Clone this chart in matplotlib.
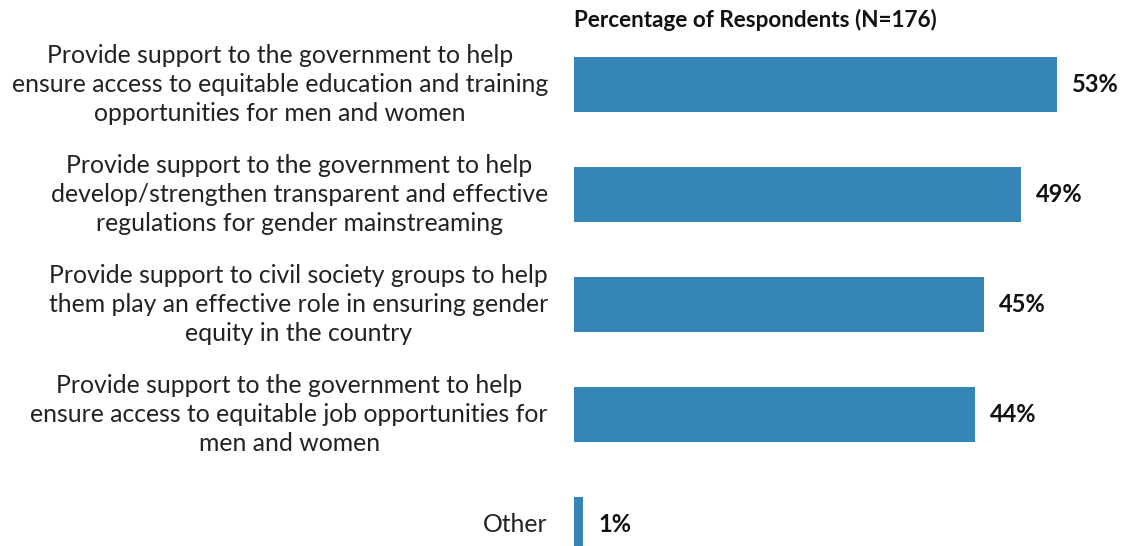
import matplotlib
matplotlib.use("Agg")
import matplotlib.pyplot as plt
from matplotlib.transforms import offset_copy

categories = [
    "Provide support to the government to help\nensure access to equitable education and training\nopportunities for men and women",
    "Provide support to the government to help\ndevelop/strengthen transparent and effective\nregulations for gender mainstreaming",
    "Provide support to civil society groups to help\nthem play an effective role in ensuring gender\nequity in the country",
    "Provide support to the government to help\nensure access to equitable job opportunities for\nmen and women",
    "Other",
]
values = [53, 49, 45, 44, 1]
title = "Percentage of Respondents (N=176)"

W, H = 1125, 546
fig = plt.figure(figsize=(W / 100, H / 100), dpi=100)
plt.rcParams['font.family'] = ['Lato', 'DejaVu Sans']

top_px = 40
ax = fig.add_axes([574 / W, 0, (1121 - 574) / W, (H - top_px) / H])
ypos = [0, 1, 2, 3, 4]
color = "#3586B4"
ax.barh(ypos, values, height=0.5, color=color)
ax.set_xlim(0, (1121 - 574) / ((1057 - 574) / 53))
ax.set_ylim((H - 84.5) / 110, (top_px - 84.5) / 110)
for s in ax.spines.values():
    s.set_visible(False)
ax.set_xticks([])
ax.set_yticks([])

for y, v in zip(ypos, values):
    tr = offset_copy(ax.transData, fig=fig, x=15, y=0, units='dots')
    ax.text(v, y, f"{v}%", transform=tr, ha='left', va='center',
            fontsize=17, fontweight='bold', color='#111111')

for y, c in zip(ypos, categories):
    tr = offset_copy(ax.transData, fig=fig, x=-26, y=0, units='dots')
    ax.text(0, y, c, transform=tr, ha='right', va='center', multialignment='center',
            fontsize=17.8, color='#222222', linespacing=1.34)

fig.text(574 / W, 1 - 20 / H, title, ha='left', va='center', fontsize=16.2,
         fontweight='bold', color='#111111')

fig.savefig("out.png", dpi=100)
